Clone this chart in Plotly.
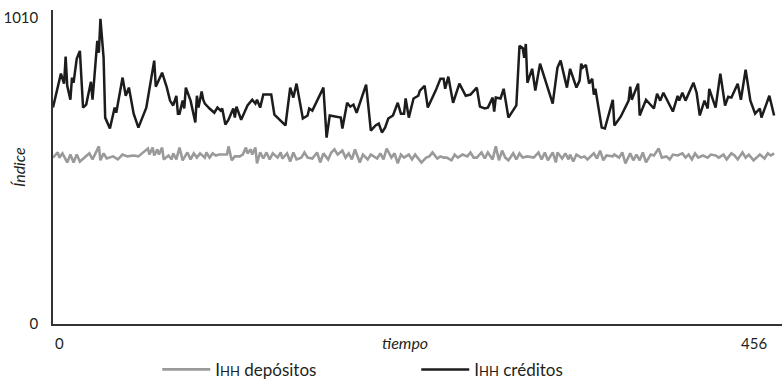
import plotly.graph_objects as go

# Time axis (periods) and index values for the credit-market HHI
t_creditos = [0, 5, 7, 8, 9, 11, 12, 13, 15, 17, 19, 21, 24, 25, 26, 28, 29, 30, 32, 33,
              36, 39, 40, 44, 46, 48, 51, 54, 59, 64, 65, 69, 72, 74, 76, 78, 79, 80, 82, 83,
              84, 87, 90, 91, 92, 94, 95, 96, 99, 102, 104, 106, 107, 109, 111, 114, 115, 116, 119, 121,
              123, 126, 128, 129, 131, 133, 138, 140, 147, 150, 152, 154, 155, 158, 161, 162, 164, 167, 171, 173,
              175, 182, 183, 186, 188, 190, 192, 198, 201, 204, 206, 208, 210, 212, 215, 218, 220, 222, 223, 225,
              228, 231, 232, 235, 237, 242, 245, 247, 248, 250, 253, 257, 261, 264, 268, 270, 273, 275, 278, 279,
              280, 283, 285, 288, 293, 295, 297, 298, 299, 300, 303, 305, 308, 312, 316, 319, 321, 325, 327, 331,
              333, 334, 335, 337, 339, 341, 342, 343, 347, 349, 354, 355, 359, 364, 365, 366, 370, 371, 375, 380,
              382, 384, 386, 392, 395, 396, 398, 400, 405, 407, 409, 412, 414, 415, 419, 422, 425, 427, 429, 433,
              435, 438, 441, 444, 447, 448, 453, 456]
ihh_creditos = [714, 826, 793, 882, 786, 740, 813, 796, 875, 901, 714, 724, 799, 740, 803, 934, 895, 1007, 878, 681,
                645, 714, 697, 813, 753, 780, 694, 648, 714, 869, 783, 829, 780, 737, 721, 753, 694, 694, 737, 711,
                780, 737, 665, 753, 714, 767, 740, 727, 711, 697, 714, 704, 711, 658, 674, 711, 681, 717, 674, 697,
                721, 740, 727, 740, 714, 757, 757, 691, 655, 780, 747, 793, 763, 678, 688, 711, 704, 737, 780, 615,
                688, 681, 645, 730, 717, 724, 697, 790, 638, 655, 661, 632, 648, 678, 688, 730, 694, 694, 744, 681,
                744, 753, 770, 786, 714, 770, 809, 809, 776, 816, 730, 793, 753, 757, 780, 717, 711, 714, 747, 701,
                747, 744, 776, 681, 721, 918, 911, 878, 924, 796, 842, 770, 859, 793, 727, 846, 869, 780, 842, 780,
                803, 859, 846, 855, 793, 809, 757, 776, 648, 645, 740, 655, 684, 737, 783, 740, 793, 688, 740, 711,
                760, 737, 763, 701, 753, 737, 763, 737, 796, 763, 688, 737, 711, 776, 714, 826, 721, 750, 747, 793,
                740, 839, 737, 694, 711, 681, 753, 688]

# Time axis and index values for the deposit-market HHI
t_depositos = [0, 3, 4, 6, 9, 11, 13, 15, 17, 20, 23, 25, 29, 30, 32, 34, 38, 41, 44, 47,
               51, 54, 57, 60, 61, 63, 64, 66, 67, 69, 70, 73, 75, 76, 78, 80, 82, 85, 87, 89,
               91, 93, 96, 97, 99, 101, 103, 105, 108, 110, 111, 113, 115, 118, 120, 122, 123, 125, 126, 128,
               129, 131, 133, 135, 137, 139, 142, 144, 145, 148, 150, 152, 154, 157, 159, 161, 164, 167, 169, 171,
               174, 176, 178, 180, 183, 185, 187, 189, 191, 194, 196, 199, 201, 205, 207, 209, 211, 214, 216, 218,
               220, 222, 225, 227, 229, 231, 233, 236, 238, 240, 243, 245, 247, 249, 252, 254, 256, 259, 262, 264,
               266, 268, 271, 273, 275, 278, 280, 282, 284, 286, 288, 291, 293, 295, 297, 300, 304, 307, 309, 311,
               313, 316, 318, 319, 322, 324, 326, 327, 329, 331, 334, 336, 338, 342, 344, 346, 348, 350, 354, 355,
               358, 360, 362, 365, 367, 369, 371, 373, 375, 378, 380, 383, 385, 388, 390, 392, 395, 398, 400, 402,
               404, 406, 408, 411, 414, 416, 419, 421, 424, 426, 429, 431, 433, 436, 438, 440, 443, 445, 447, 450,
               452, 454, 456]
ihh_depositos = [549, 566, 549, 563, 533, 559, 533, 559, 536, 549, 563, 543, 586, 540, 563, 546, 553, 543, 559, 553,
                 556, 553, 566, 579, 559, 582, 556, 576, 559, 582, 543, 556, 543, 563, 543, 582, 540, 566, 543, 563,
                 549, 563, 549, 566, 549, 563, 556, 559, 559, 559, 586, 540, 553, 553, 559, 582, 563, 576, 559, 582,
                 530, 566, 546, 566, 543, 563, 549, 566, 546, 563, 536, 566, 543, 549, 566, 549, 546, 566, 533, 563,
                 543, 566, 576, 559, 572, 549, 563, 543, 576, 533, 559, 543, 559, 546, 563, 543, 579, 549, 563, 530,
                 559, 549, 559, 543, 559, 546, 533, 549, 553, 566, 546, 553, 549, 549, 540, 559, 549, 559, 553, 566,
                 549, 549, 566, 546, 566, 543, 586, 540, 572, 549, 540, 563, 543, 563, 549, 553, 549, 566, 543, 566,
                 540, 566, 533, 566, 546, 563, 543, 559, 536, 559, 549, 553, 543, 563, 546, 572, 540, 556, 553, 559,
                 549, 566, 530, 563, 540, 559, 540, 566, 533, 559, 556, 579, 549, 553, 543, 559, 556, 563, 549, 559,
                 543, 563, 549, 556, 549, 559, 556, 549, 559, 543, 563, 556, 543, 566, 549, 559, 540, 549, 559, 546,
                 563, 556, 563]

y_ticks = [0, 1010]
x_tick_labels = ["0", "456"]
FONT = "Lato"

fig = go.Figure()
fig.add_trace(go.Scatter(
    x=t_depositos, y=ihh_depositos, mode="lines",
    name='I<span style="font-size:13px">HH</span> depósitos',
    line=dict(color="#9a9a9a", width=2.6),
))
fig.add_trace(go.Scatter(
    x=t_creditos, y=ihh_creditos, mode="lines",
    name='I<span style="font-size:13px">HH</span> créditos',
    line=dict(color="#1c1c1c", width=2.5),
))

fig.update_layout(
    width=782, height=382,
    margin=dict(l=53, r=0, t=10, b=58, autoexpand=False),
    paper_bgcolor="white", plot_bgcolor="white",
    font=dict(family=FONT, size=15, color="#231f20"),
    showlegend=True,
    legend=dict(
        orientation="h", x=0.143, xanchor="left", y=-0.146, yanchor="middle",
        entrywidth=196, entrywidthmode="pixels",
        font=dict(family=FONT, size=17, color="#231f20"),
        itemwidth=48, tracegroupgap=0, bgcolor="rgba(0,0,0,0)",
    ),
)

fig.update_xaxes(
    range=[0, 461], showgrid=False, zeroline=False,
    showline=True, linecolor="#333333", linewidth=1.5,
    showticklabels=False, ticks="",
)
fig.update_yaxes(
    range=[0, 1036], showgrid=False, zeroline=False,
    showline=True, linecolor="#333333", linewidth=1.5,
    tickvals=y_ticks, ticktext=[str(v) for v in y_ticks],
    ticks="outside", ticklen=10, tickcolor="rgba(0,0,0,0)",
    tickfont=dict(family=FONT, size=15, color="#231f20"),
)

# Axis end labels and axis titles
fig.add_annotation(x=0, y=0, xref="x", yref="paper", text=x_tick_labels[0],
                   showarrow=False, xanchor="left", yanchor="top", yshift=-8,
                   font=dict(family=FONT, size=15))
fig.add_annotation(x=456, y=0, xref="x", yref="paper", text=x_tick_labels[1],
                   showarrow=False, xanchor="right", yanchor="top", yshift=-8, xshift=-5,
                   font=dict(family=FONT, size=15))
fig.add_annotation(x=0.483, y=0, xref="paper", yref="paper", text="<i>tiempo</i>",
                   showarrow=False, xanchor="center", yanchor="top", yshift=-7,
                   font=dict(family=FONT, size=16))
fig.add_annotation(x=0, y=0.5, xref="paper", yref="paper", text="<i>Índice</i>",
                   showarrow=False, xanchor="center", yanchor="middle", xshift=-35,
                   textangle=-90, font=dict(family=FONT, size=16))

fig.write_html("out.html")
